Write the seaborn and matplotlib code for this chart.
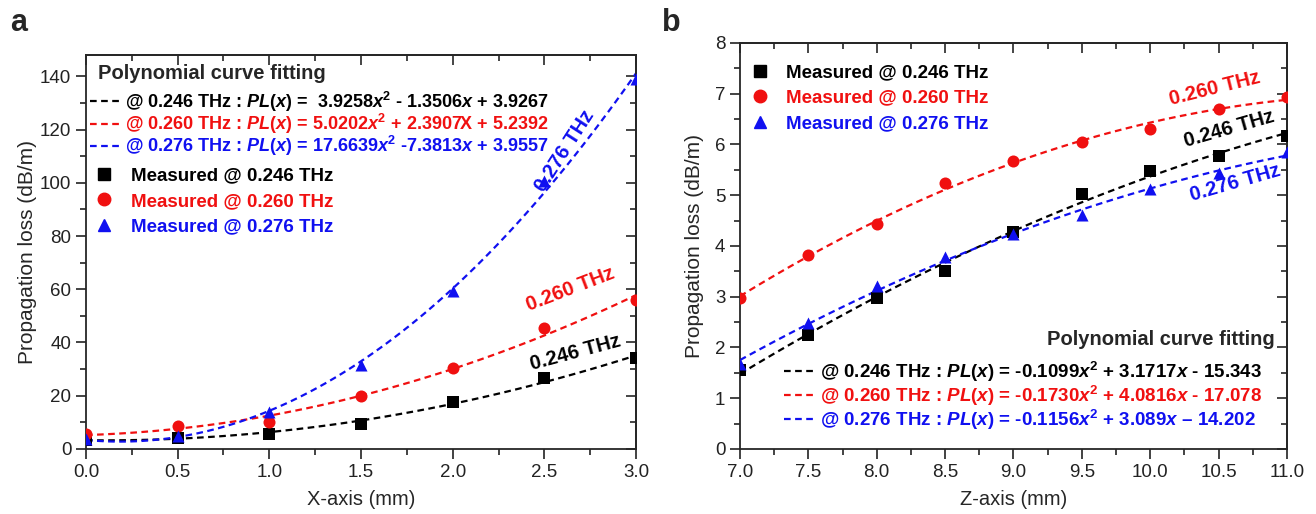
import numpy as np
import pandas as pd
import seaborn as sns
import matplotlib.pyplot as plt
from matplotlib.lines import Line2D
from matplotlib.ticker import MultipleLocator

FONT = "Liberation Sans"

# ---- panel a data (X-axis scan)
x_a = [0.0, 0.5, 1.0, 1.5, 2.0, 2.5, 3.0]
a_246 = [3.5, 4.2, 5.8, 9.3, 17.8, 26.8, 34.0]
a_260 = [5.6, 8.5, 10.2, 19.8, 30.3, 45.5, 56.0]
a_276 = [3.6, 5.0, 13.8, 31.5, 59.5, 100.5, 139.0]

# ---- panel b data (Z-axis scan)
x_b = [7.0, 7.5, 8.0, 8.5, 9.0, 9.5, 10.0, 10.5, 11.0]
b_246 = [1.55, 2.25, 2.97, 3.50, 4.27, 5.02, 5.48, 5.78, 6.17]
b_260 = [2.98, 3.82, 4.43, 5.24, 5.67, 6.05, 6.31, 6.69, 6.94]
b_276 = [1.68, 2.48, 3.21, 3.78, 4.23, 4.60, 5.13, 5.44, 5.85]

freqs = ["0.246 THz", "0.260 THz", "0.276 THz"]
colors = ["black", "#f01010", "#1010f0"]
markers = ["s", "o", "^"]

fit_a = [
    r"@ 0.246 THz : $\mathit{PL(x)}$ =  3.9258$\mathit{x}^{\mathrm{2}}$ - 1.3506$\mathit{x}$ + 3.9267",
    r"@ 0.260 THz : $\mathit{PL(x)}$ = 5.0202$\mathit{x}^{\mathrm{2}}$ + 2.3907X + 5.2392",
    r"@ 0.276 THz : $\mathit{PL(x)}$ = 17.6639$\mathit{x}^{\mathrm{2}}$ -7.3813$\mathit{x}$ + 3.9557",
]
fit_b = [
    r"@ 0.246 THz : $\mathit{PL(x)}$ = -0.1099$\mathit{x}^{\mathrm{2}}$ + 3.1717$\mathit{x}$ - 15.343",
    r"@ 0.260 THz : $\mathit{PL(x)}$ = -0.1730$\mathit{x}^{\mathrm{2}}$ + 4.0816$\mathit{x}$ - 17.078",
    r"@ 0.276 THz : $\mathit{PL(x)}$ = -0.1156$\mathit{x}^{\mathrm{2}}$ + 3.089$\mathit{x}$ – 14.202",
]

sns.set_style("ticks")
plt.rcParams["font.family"] = [FONT, "DejaVu Sans"]
plt.rcParams["mathtext.fontset"] = "custom"
plt.rcParams["mathtext.rm"] = FONT + ":bold"
plt.rcParams["mathtext.it"] = FONT + ":italic:bold"
plt.rcParams["mathtext.bf"] = FONT + ":bold"

fig = plt.figure(figsize=(13.16, 5.14), dpi=100)
ax1 = fig.add_axes([0.0653, 0.1265, 0.418, 0.7665])
ax2 = fig.add_axes([0.5623, 0.1265, 0.4156, 0.79])


def draw(ax, xs, ys_list):
    for ys, c, m in zip(ys_list, colors, markers):
        df = pd.DataFrame({"x": xs, "y": ys})
        sns.regplot(data=df, x="x", y="y", order=2, ci=None, ax=ax, color=c,
                    marker=m, scatter_kws={"s": 75, "zorder": 3, "linewidths": 0, "alpha": 1},
                    line_kws={"ls": (0, (3, 2)), "lw": 1.6})


def style(ax, xmaj, xmin, ymaj, ymin):
    ax.xaxis.set_major_locator(MultipleLocator(xmaj))
    ax.xaxis.set_minor_locator(MultipleLocator(xmin))
    ax.yaxis.set_major_locator(MultipleLocator(ymaj))
    ax.yaxis.set_minor_locator(MultipleLocator(ymin))
    for s in ax.spines.values():
        s.set_visible(True)
        s.set_linewidth(1.3)
    ax.tick_params(which="both", direction="out", width=1.2, labelsize=13.5,
                   colors="#222222")
    ax.tick_params(which="major", length=7)
    ax.tick_params(which="minor", length=4)
    sec = ax.secondary_xaxis("top")
    sec.xaxis.set_major_locator(MultipleLocator(xmaj))
    sec.xaxis.set_minor_locator(MultipleLocator(xmin))
    sec.tick_params(which="both", direction="in", labeltop=False, width=1.2)
    sec.tick_params(which="major", length=7)
    sec.tick_params(which="minor", length=4)
    sec.spines["top"].set_linewidth(1.3)
    secy = ax.secondary_yaxis("right")
    secy.yaxis.set_major_locator(MultipleLocator(ymaj))
    secy.yaxis.set_minor_locator(MultipleLocator(ymin))
    secy.tick_params(which="both", direction="in", labelright=False, width=1.2)
    secy.tick_params(which="major", length=7)
    secy.tick_params(which="minor", length=4)
    secy.spines["right"].set_linewidth(1.3)


fit_handles = [Line2D([], [], color=c, ls=(0, (3, 2)), lw=1.6) for c in colors]
meas_handles = [Line2D([], [], color=c, marker=m, ls="", ms=9) for c, m in zip(colors, markers)]
meas_labels = ["Measured @ " + f for f in freqs]

# ---- panel a
draw(ax1, x_a, [a_246, a_260, a_276])
ax1.set_xlim(0, 3.0)
ax1.set_ylim(0, 148)
style(ax1, 0.5, 0.25, 20, 10)
ax1.set_xlabel("X-axis (mm)", fontsize=14.5, labelpad=7)
ax1.set_ylabel("Propagation loss (dB/m)", fontsize=15, labelpad=2)

ax1.text(0.065, 141, "Polynomial curve fitting", fontsize=14.5, fontweight="bold",
         ha="left", va="center")
leg1 = ax1.legend(fit_handles, fit_a, loc="upper left", bbox_to_anchor=(0.007, 0.912),
                  frameon=False, handlelength=1.75, handletextpad=0.2,
                  labelspacing=-0.1, borderaxespad=0, borderpad=0, labelcolor=colors,
                  prop={"weight": "bold", "size": 13})
ax1.add_artist(leg1)
ax1.legend(meas_handles, meas_labels, loc="upper left",
           bbox_to_anchor=(0.013, 0.715), frameon=False, handlelength=1.2,
           handletextpad=0.8, labelspacing=0.45, borderaxespad=0, borderpad=0,
           labelcolor=colors, prop={"weight": "bold", "size": 13.5})

ax1.text(2.61, 112, "0.276 THz", color=colors[2], rotation=57, fontsize=14.5,
         fontweight="bold", ha="center", va="center")
ax1.text(2.645, 60, "0.260 THz", color=colors[1], rotation=21, fontsize=14.5,
         fontweight="bold", ha="center", va="center")
ax1.text(2.67, 36, "0.246 THz", color=colors[0], rotation=15, fontsize=14.5,
         fontweight="bold", ha="center", va="center")

# ---- panel b
draw(ax2, x_b, [b_246, b_260, b_276])
ax2.set_xlim(7.0, 11.0)
ax2.set_ylim(0, 8)
style(ax2, 0.5, 0.25, 1, 0.5)
ax2.set_xlabel("Z-axis (mm)", fontsize=14.5, labelpad=7)
ax2.set_ylabel("Propagation loss (dB/m)", fontsize=15, labelpad=8)

leg2 = ax2.legend(meas_handles, meas_labels, loc="upper left",
                  bbox_to_anchor=(0.016, 0.948), frameon=False, handlelength=1.2,
                  handletextpad=0.8, labelspacing=0.45, borderaxespad=0, borderpad=0,
                  labelcolor=colors, prop={"weight": "bold", "size": 13.5})
ax2.add_artist(leg2)
ax2.text(10.912, 2.15, "Polynomial curve fitting", fontsize=14.5, fontweight="bold",
         ha="right", va="center")
ax2.legend(fit_handles, fit_b, loc="lower right", bbox_to_anchor=(0.955, 0.042),
           frameon=False, handlelength=1.75, handletextpad=0.2,
           labelspacing=0.0, borderaxespad=0, borderpad=0, labelcolor=colors,
           prop={"weight": "bold", "size": 13.5})

ax2.text(10.47, 7.1, "0.260 THz", color=colors[1], rotation=14, fontsize=14.5,
         fontweight="bold", ha="center", va="center")
ax2.text(10.58, 6.3, "0.246 THz", color=colors[0], rotation=16, fontsize=14.5,
         fontweight="bold", ha="center", va="center")
ax2.text(10.62, 5.24, "0.276 THz", color=colors[2], rotation=16, fontsize=14.5,
         fontweight="bold", ha="center", va="center")

fig.text(0.008, 0.955, "a", fontsize=22, fontweight="bold", va="center")
fig.text(0.503, 0.955, "b", fontsize=22, fontweight="bold", va="center")

fig.savefig("out.png", dpi=100)
